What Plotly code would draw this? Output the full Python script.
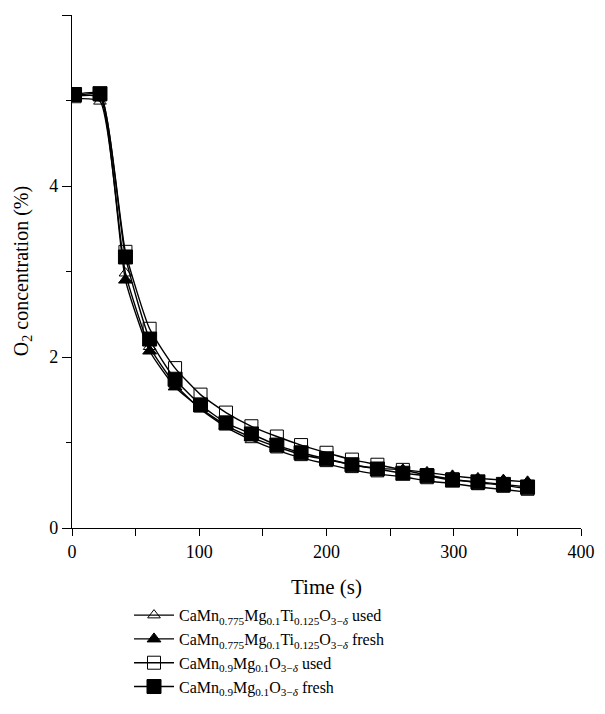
import plotly.graph_objects as go

time_s = [2, 22, 42, 61, 81, 101, 121, 141, 161, 180, 200, 220, 240, 260, 279, 299, 319, 339, 358]

ti_used = [5.02, 4.99, 2.98, 2.12, 1.68, 1.39, 1.18, 1.03, 0.91, 0.82, 0.75, 0.68, 0.63, 0.60, 0.55, 0.52, 0.48, 0.45, 0.42]
ti_fresh = [5.05, 5.04, 2.90, 2.07, 1.65, 1.40, 1.20, 1.06, 0.95, 0.86, 0.80, 0.74, 0.70, 0.68, 0.65, 0.61, 0.58, 0.56, 0.54]
mg_used = [5.05, 5.07, 3.23, 2.33, 1.87, 1.56, 1.35, 1.19, 1.07, 0.97, 0.88, 0.80, 0.74, 0.68, 0.62, 0.57, 0.53, 0.50, 0.46]
mg_fresh = [5.07, 5.08, 3.17, 2.21, 1.74, 1.44, 1.23, 1.10, 0.97, 0.88, 0.81, 0.74, 0.69, 0.64, 0.61, 0.56, 0.54, 0.51, 0.48]

names = [
    "CaMn<sub>0.775</sub>Mg<sub>0.1</sub>Ti<sub>0.125</sub>O<sub>3−<i>δ</i></sub> used",
    "CaMn<sub>0.775</sub>Mg<sub>0.1</sub>Ti<sub>0.125</sub>O<sub>3−<i>δ</i></sub> fresh",
    "CaMn<sub>0.9</sub>Mg<sub>0.1</sub>O<sub>3−<i>δ</i></sub> used",
    "CaMn<sub>0.9</sub>Mg<sub>0.1</sub>O<sub>3−<i>δ</i></sub> fresh",
]
series = [ti_used, ti_fresh, mg_used, mg_fresh]
symbols = ["triangle-up-open", "triangle-up", "square-open", "square"]
sizes = [11, 12, 13, 14]

fig = go.Figure()
for name, ys, sym, sz in zip(names, series, symbols, sizes):
    fig.add_trace(go.Scatter(
        x=time_s, y=ys, name=name, mode="lines+markers",
        line=dict(color="black", width=1.4, shape="spline", smoothing=0.5),
        marker=dict(symbol=sym, size=sz, color="black",
                    line=dict(color="black", width=1)),
    ))

font_family = "Liberation Serif"
fig.update_layout(
    width=597, height=706,
    margin=dict(l=64, r=24, t=7, b=186, autoexpand=False),
    paper_bgcolor="white", plot_bgcolor="white",
    font=dict(family=font_family, size=18, color="black"),
    showlegend=True,
    legend=dict(x=0.2027, y=0.164, xref="container", yref="container",
                xanchor="left", yanchor="top",
                font=dict(family=font_family, size=16, color="black"),
                tracegroupgap=0, itemwidth=40, bgcolor="rgba(0,0,0,0)"),
    xaxis=dict(range=[0, 400], tickvals=[0, 100, 200, 300, 400],
               ticks="outside", ticklen=7, tickwidth=1.2, tickcolor="black",
               minor=dict(dtick=50, ticks="outside", ticklen=7, tickwidth=1.2, tickcolor="black"),
               showline=True, linecolor="black", linewidth=1.2,
               showgrid=False, zeroline=False,
               title=dict(text="Time (s)", font=dict(size=21), standoff=18),
               tickfont=dict(size=18)),
    yaxis=dict(range=[0, 6], tickvals=[0, 2, 4, 6],
               ticks="outside", ticklen=9, tickwidth=1.2, tickcolor="black",
               minor=dict(dtick=1, ticks="outside", ticklen=5, tickwidth=1.2, tickcolor="black"),
               showline=True, linecolor="black", linewidth=1.2,
               showgrid=False, zeroline=False,
               tickfont=dict(size=18)),
    annotations=[dict(text="O<sub>2</sub> concentration (%)", textangle=-90,
                      xref="paper", yref="paper", x=-0.097, y=0.5,
                      xanchor="center", yanchor="middle", showarrow=False,
                      font=dict(family=font_family, size=20, color="black"))],
)

fig.write_html("out.html")
